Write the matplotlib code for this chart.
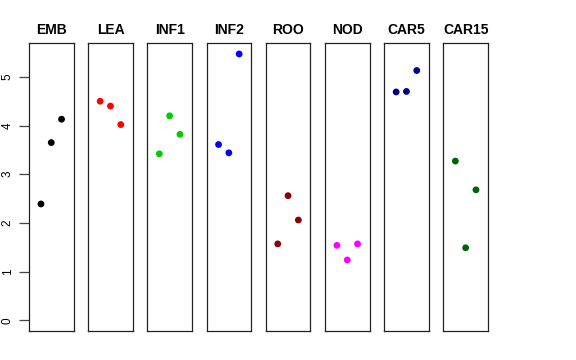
import matplotlib
matplotlib.use("Agg")
import matplotlib.pyplot as plt

plt.rcParams['font.family'] = ['Liberation Sans', 'DejaVu Sans']

tissues = ["EMB", "LEA", "INF1", "INF2", "ROO", "NOD", "CAR5", "CAR15"]
colors = ["#000000", "#FF0000", "#00CD00", "#0000FF", "#8B0000", "#FF00FF", "#00008B", "#006400"]
x_pos = [1, 2, 3]
EMB = [2.39, 3.65, 4.13]
LEA = [4.50, 4.40, 4.02]
INF1 = [3.42, 4.20, 3.82]
INF2 = [3.61, 3.44, 5.47]
ROO = [1.57, 2.56, 2.06]
NOD = [1.54, 1.24, 1.57]
CAR5 = [4.69, 4.70, 5.13]
CAR15 = [3.27, 1.49, 2.68]
values = [EMB, LEA, INF1, INF2, ROO, NOD, CAR5, CAR15]
yticks = [0, 1, 2, 3, 4, 5]

W, H = 576, 360
fig = plt.figure(figsize=(W / 100, H / 100), dpi=100)

ymax = max(max(v) for v in values)
ymin = 0
yr = ymax - ymin
for i, (name, col, vals) in enumerate(zip(tissues, colors, values)):
    left = 29 + i * 59.2
    ax = fig.add_axes([left / W, (H - 331) / H, 44.5 / W, (331 - 43.3) / H])
    ax.scatter(x_pos, vals, s=24, color=col, edgecolors='none', zorder=3)
    ax.set_xlim(-0.16, 4.16)
    ax.set_ylim(ymin - 0.04 * yr, ymax + 0.04 * yr)
    ax.set_xticks([])
    ax.set_title(name, fontsize=10, fontweight='bold', pad=6.5)
    for sp in ax.spines.values():
        sp.set_linewidth(0.9)
        sp.set_color('#222222')
    if i == 0:
        ax.set_yticks(yticks)
        ax.set_yticklabels([str(t) for t in yticks], rotation=90, va='center', fontsize=8.5)
        ax.tick_params(axis='y', length=7, width=0.9, color='#444444', pad=4)
    else:
        ax.set_yticks([])

fig.savefig("out.png", dpi=100)
